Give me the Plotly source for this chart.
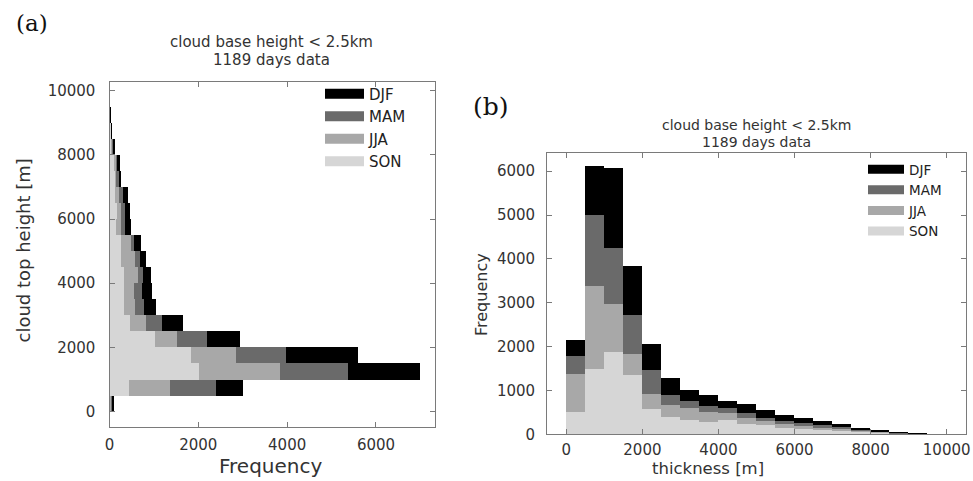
import plotly.graph_objects as go

W, H = 973, 481

# ---------------- data ----------------
seasons = ["DJF", "MAM", "JJA", "SON"]
season_colors = {"DJF": "#000000", "MAM": "#6a6a6a", "JJA": "#a8a8a8", "SON": "#d6d6d6"}

# bin lower edges (m), 500 m bins
bin_lo = [0, 500, 1000, 1500, 2000, 2500, 3000, 3500, 4000, 4500,
          5000, 5500, 6000, 6500, 7000, 7500, 8000, 8500, 9000, 9500]
bin_width = 500

# (a) cloud top height histogram (horizontal), counts per bin
a_SON = [15, 426, 2007, 1818, 1009, 442, 306, 306, 310, 253, 238, 140, 163, 102, 102, 102, 42, 26, 3, 0]
a_JJA = [10, 930, 1821, 1021, 492, 363, 250, 234, 320, 303, 227, 98, 75, 91, 48, 38, 18, 5, 2, 0]
a_MAM = [15, 1036, 1528, 1118, 694, 356, 211, 181, 120, 113, 75, 106, 91, 98, 43, 20, 15, 3, 3, 0]
a_DJF = [60, 606, 1624, 1626, 742, 476, 258, 227, 170, 136, 152, 121, 113, 113, 60, 55, 27, 2, 7, 0]

# (b) cloud thickness histogram, counts per bin
b_SON = [515, 1486, 1880, 1366, 592, 401, 326, 288, 330, 250, 212, 159, 137, 114, 95, 70, 45, 25, 11, 3]
b_JJA = [873, 1912, 1102, 462, 341, 282, 280, 227, 160, 137, 98, 75, 59, 45, 35, 25, 15, 8, 4, 1]
b_MAM = [402, 1617, 1274, 888, 531, 227, 159, 136, 124, 105, 77, 76, 77, 53, 35, 20, 13, 7, 3, 1]
b_DJF = [357, 1100, 1814, 1122, 607, 379, 259, 259, 152, 198, 166, 129, 114, 98, 75, 45, 25, 12, 5, 1]

a_ticks_x = [0, 2000, 4000, 6000]
a_ticks_y = [0, 2000, 4000, 6000, 8000, 10000]
b_ticks_x = [0, 2000, 4000, 6000, 8000, 10000]
b_ticks_y = [0, 1000, 2000, 3000, 4000, 5000, 6000]

title_line1 = "cloud base height &lt; 2.5km"
title_line2 = "1189 days data"

# ---------------- figure ----------------
centers = [lo + bin_width / 2 for lo in bin_lo]
a_data = {"SON": a_SON, "JJA": a_JJA, "MAM": a_MAM, "DJF": a_DJF}
b_data = {"SON": b_SON, "JJA": b_JJA, "MAM": b_MAM, "DJF": b_DJF}

fig = go.Figure()

# stacked: SON at the bottom, DJF on top
for s in ["SON", "JJA", "MAM", "DJF"]:
    fig.add_trace(go.Bar(y=centers, x=a_data[s], orientation="h", width=bin_width,
                         marker=dict(color=season_colors[s], line=dict(width=0)),
                         xaxis="x", yaxis="y", showlegend=False, name=s,
                         hoverinfo="skip"))
for s in ["SON", "JJA", "MAM", "DJF"]:
    fig.add_trace(go.Bar(x=centers, y=b_data[s], width=bin_width,
                         marker=dict(color=season_colors[s], line=dict(width=0)),
                         xaxis="x2", yaxis="y2", showlegend=False, name=s,
                         hoverinfo="skip"))

# legend entries (wide patches)
for i, s in enumerate(seasons):
    fig.add_trace(go.Scatter(x=[None], y=[None], mode="lines", name=s,
                             line=dict(color=season_colors[s], width=10),
                             xaxis="x", yaxis="y", legend="legend",
                             legendgroup="a" + s))
    fig.add_trace(go.Scatter(x=[None], y=[None], mode="lines", name=s,
                             line=dict(color=season_colors[s], width=9),
                             xaxis="x2", yaxis="y2", legend="legend2",
                             legendgroup="b" + s))

a_tot_max = max(sum(v) for v in zip(a_SON, a_JJA, a_MAM, a_DJF))
b_tot_max = max(sum(v) for v in zip(b_SON, b_JJA, b_MAM, b_DJF))

FONT = "DejaVu Sans"
TXT = "#333333"
LINE = "#7a7a7a"

def px_x(p):
    return p / W

def px_y(p):
    return 1 - p / H

common = dict(showgrid=False, zeroline=False, showline=True, linecolor=LINE,
              linewidth=1.3, mirror="ticks", ticks="inside", ticklen=5,
              tickwidth=1.2, tickcolor=LINE, automargin=False,
              tickfont=dict(family=FONT, size=15, color=TXT))

fig.update_layout(
    width=W, height=H,
    margin=dict(l=0, r=0, t=0, b=0),
    paper_bgcolor="white", plot_bgcolor="white",
    barmode="stack", bargap=0,
    font=dict(family=FONT, color=TXT),
    xaxis=dict(domain=[px_x(109.5), px_x(435)], range=[0, a_tot_max * 1.05],
               tickvals=a_ticks_x, ticktext=[str(v) for v in a_ticks_x],
               anchor="y", ticklabelstandoff=4, **common),
    yaxis=dict(domain=[px_y(427), px_y(82)], range=[-480, 10270],
               tickvals=a_ticks_y, ticktext=[str(v) for v in a_ticks_y],
               anchor="x", ticklabelstandoff=10, **common),
    xaxis2=dict(domain=[px_x(547.3), px_x(965.7)], range=[-500, 10500],
                tickvals=b_ticks_x, ticktext=[str(v) for v in b_ticks_x],
                anchor="y2", ticklabelstandoff=2, **common),
    yaxis2=dict(domain=[px_y(434.3), px_y(152.7)], range=[0, b_tot_max * 1.05],
                tickvals=b_ticks_y, ticktext=[str(v) for v in b_ticks_y],
                anchor="x2", ticklabelstandoff=8, **common),
    legend=dict(x=px_x(320), y=px_y(77.5), xanchor="left", yanchor="top",
                bgcolor="rgba(0,0,0,0)", borderwidth=0, tracegroupgap=0,
                itemwidth=39, font=dict(family=FONT, size=15, color="#222")),
    legend2=dict(x=px_x(863), y=px_y(154), xanchor="left", yanchor="top",
                 bgcolor="rgba(0,0,0,0)", borderwidth=0, tracegroupgap=0,
                 itemwidth=36, font=dict(family=FONT, size=13.5, color="#222")),
)

def note(text, xp, yp, size, family=FONT, angle=0, color=TXT):
    return dict(text=text, x=px_x(xp), y=px_y(yp), xref="paper", yref="paper",
                xanchor="center", yanchor="middle", showarrow=False, borderpad=0,
                textangle=angle, font=dict(family=family, size=size, color=color))

ann = [
    note("(a)", 31.5, 23, 23, family="DejaVu Serif", color="#111"),
    note("(b)", 491, 106.5, 25, family="DejaVu Serif", color="#111"),
    note(title_line1, 271, 42.5, 15),
    note(title_line2, 271, 60.5, 15),
    note(title_line1, 756.5, 125.5, 14),
    note(title_line2, 756.5, 142, 14),
    note("Frequency", 270.5, 466, 20),
    note("cloud top height [m]", 22.5, 251, 18, angle=-90),
    note("thickness [m]", 708, 468, 16.5),
    note("Frequency", 481, 295, 16, angle=-90),
]
fig.update_layout(annotations=ann)

fig.write_html("out.html")
